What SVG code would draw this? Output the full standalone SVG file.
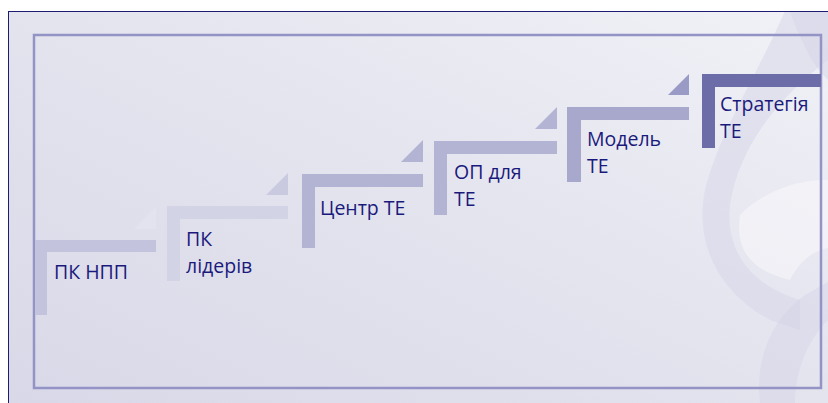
<svg xmlns="http://www.w3.org/2000/svg" width="828" height="403" viewBox="0 0 828 403">
  <defs>
    <linearGradient id="bg" x1="0" y1="1" x2="1" y2="0">
      <stop offset="0" stop-color="#d8d8e8"/>
      <stop offset="0.6" stop-color="#e6e6f0"/>
      <stop offset="1" stop-color="#f1f1f7"/>
    </linearGradient>
    <style>
      .lbl { font-family: "Open Sans", "Noto Sans", "DejaVu Sans", sans-serif; font-size: 19.5px; fill: #1a1a7c; }
      .rib { fill: #d2d2e6; opacity: 0.45; }
      .ribl { fill: #f6f6fa; opacity: 0.6; }
    </style>
  </defs>
  <rect x="0" y="0" width="828" height="403" fill="#ffffff"/>
  <rect x="8" y="11" width="820" height="392" fill="url(#bg)"/>
  <g id="ribbons">
    <path class="rib" d="M785 11 C760 70 720 130 705 190 C695 240 715 290 770 320 L800 330 L800 300 C750 285 725 250 730 205 C738 150 775 100 828 60 L828 11 Z"/>
    <path class="ribl" d="M828 180 C790 180 760 195 740 215 C735 250 750 270 790 280 C800 260 815 250 828 248 Z"/>
    <path class="rib" d="M760 403 C755 360 770 320 805 295 L828 282 L828 320 C808 340 795 370 795 403 Z"/>
    <path class="rib" d="M790 11 C800 40 812 65 828 80 L828 11 Z"/>
  </g>
  <line x1="8.5" y1="11" x2="8.5" y2="403" stroke="#1c1c70" stroke-width="1"/>
  <line x1="8" y1="11.5" x2="828" y2="11.5" stroke="#1c1c70" stroke-width="1"/>
  <rect id="frame" x="34" y="35" width="787" height="353" fill="none" stroke="#9393c6" stroke-width="2.5"/>

  <g id="step1">
    <path d="M35 240 H156 V252 H47 V315 H35 Z" fill="#c3c3dd"/>
    <polygon points="134,229 156,207 156,229" fill="#e3e3ef"/>
    <text class="lbl" x="54" y="279">ПК НПП</text>
  </g>
  <g id="step2">
    <path d="M167 206 H288 V219 H180 V281 H167 Z" fill="#d3d3e6"/>
    <polygon points="266,195 288,173 288,195" fill="#c9c9e0"/>
    <text class="lbl" x="186" y="246">ПК</text>
    <text class="lbl" x="186" y="273">лідерів</text>
  </g>
  <g id="step3">
    <path d="M302 174 H423 V187 H315 V248 H302 Z" fill="#b3b3d3"/>
    <polygon points="401,162 423,140 423,162" fill="#b3b3d3"/>
    <text class="lbl" x="320" y="215">Центр ТЕ</text>
  </g>
  <g id="step4">
    <path d="M434 141 H557 V154 H447 V215 H434 Z" fill="#b3b3d3"/>
    <polygon points="535,129 557,107 557,129" fill="#b3b3d3"/>
    <text class="lbl" x="454" y="179">ОП для</text>
    <text class="lbl" x="454" y="206">ТЕ</text>
  </g>
  <g id="step5">
    <path d="M567 107 H689 V120 H581 V182 H567 Z" fill="#a8a8cc"/>
    <polygon points="668,95 689,74 689,95" fill="#9a9ac6"/>
    <text class="lbl" x="587" y="146">Модель</text>
    <text class="lbl" x="587" y="173">ТЕ</text>
  </g>
  <g id="step6">
    <path d="M702 74 H821 V87 H715 V148 H702 Z" fill="#6c6ca8"/>
    <text class="lbl" x="720" y="111">Стратегія</text>
    <text class="lbl" x="720" y="138">ТЕ</text>
  </g>
</svg>
